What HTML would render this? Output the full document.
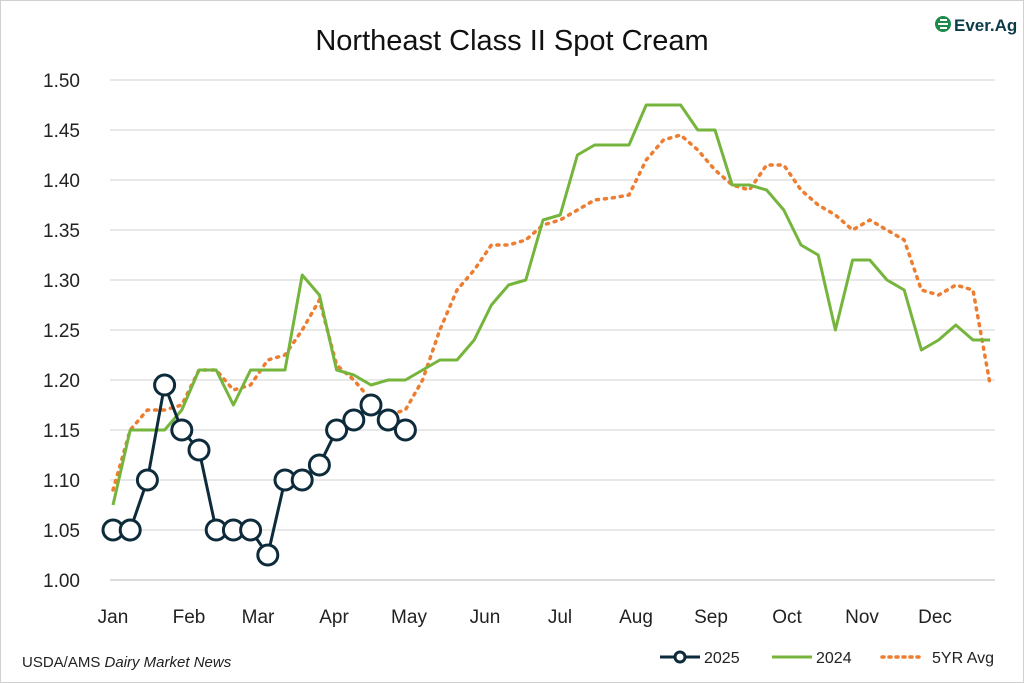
<!DOCTYPE html>
<html><head><meta charset="utf-8"><style>
body{margin:0;background:#fff;}
svg{display:block;font-family:"Liberation Sans",sans-serif;}
</style></head><body>
<svg id="c" width="1024" height="683" viewBox="0 0 1024 683" xmlns="http://www.w3.org/2000/svg">
<rect x="0.5" y="0.5" width="1023" height="682" fill="#fff" stroke="#d0d0d0"/>
<text x="512" y="50" text-anchor="middle" font-size="29" fill="#111">Northeast Class II Spot Cream</text>
<g id="grid"></g>
<g id="series"></g>
<text x="22" y="667" font-size="15" fill="#222">USDA/AMS <tspan font-style="italic">Dairy Market News</tspan></text>
<line x1="660" y1="657" x2="700" y2="657" stroke="#0d2b3a" stroke-width="3"/>
<circle cx="680" cy="657" r="5" fill="#fff" stroke="#0d2b3a" stroke-width="3"/>
<text x="704" y="663" font-size="16" fill="#222">2025</text>
<line x1="772" y1="657" x2="812" y2="657" stroke="#76b53d" stroke-width="3"/>
<text x="816" y="663" font-size="16" fill="#222">2024</text>
<line x1="882" y1="657" x2="922" y2="657" stroke="#ed7d31" stroke-width="3.5" stroke-dasharray="2 5" stroke-linecap="round"/>
<text x="932" y="663" font-size="16" fill="#222">5YR Avg</text>
<g transform="translate(934,14)">
<circle cx="9" cy="10" r="8" fill="#1e8a4a"/>
<path d="M4 10 h10 M6 6 h7 M6 14 h7" stroke="#fff" stroke-width="2"/>
<text x="20" y="17" font-size="17" font-weight="bold" fill="#0d3b4a">Ever.Ag</text>
</g>
</svg>
<script>
const NS="http://www.w3.org/2000/svg";
const g=document.getElementById('grid'),s=document.getElementById('series');
function el(p,t,a){const e=document.createElementNS(NS,t);for(const k in a)e.setAttribute(k,a[k]);p.appendChild(e);return e;}
const Y=v=>580-(v-1)*1000, X=i=>113+17.2*i;
for(let k=0;k<=10;k++){const v=1+k*0.05;el(g,'line',{x1:110,x2:995,y1:Y(v),y2:Y(v),stroke:k==0?'#bbb':'#d0d0d0','stroke-width':1});
 const t=el(g,'text',{x:80,y:Y(v)+7,'text-anchor':'end','font-size':19,fill:'#222'});t.textContent=v.toFixed(2);}
const m=['Jan','Feb','Mar','Apr','May','Jun','Jul','Aug','Sep','Oct','Nov','Dec'];
const mx=[113,189,258,334,409,485,560,636,711,787,862,935];
m.forEach((n,i)=>{const t=el(g,'text',{x:mx[i],y:623,'text-anchor':'middle','font-size':19,fill:'#222'});t.textContent=n;});
const avg=[1.09,1.15,1.17,1.17,1.175,1.21,1.21,1.19,1.195,1.22,1.225,1.25,1.28,1.215,1.2,1.18,1.165,1.17,1.2,1.25,1.29,1.31,1.335,1.335,1.34,1.355,1.36,1.37,1.38,1.382,1.385,1.42,1.44,1.445,1.43,1.41,1.395,1.39,1.415,1.415,1.39,1.375,1.365,1.35,1.36,1.35,1.34,1.29,1.285,1.295,1.29,1.195];
const y24=[1.075,1.15,1.15,1.15,1.17,1.21,1.21,1.175,1.21,1.21,1.21,1.305,1.285,1.21,1.205,1.195,1.2,1.2,1.21,1.22,1.22,1.24,1.275,1.295,1.3,1.36,1.365,1.425,1.435,1.435,1.435,1.475,1.475,1.475,1.45,1.45,1.395,1.395,1.39,1.37,1.335,1.325,1.25,1.32,1.32,1.3,1.29,1.23,1.24,1.255,1.24,1.24];
const y25=[1.05,1.05,1.1,1.195,1.15,1.13,1.05,1.05,1.05,1.025,1.1,1.1,1.115,1.15,1.16,1.175,1.16,1.15];
const pts=a=>a.map((v,i)=>X(i).toFixed(1)+','+Y(v).toFixed(1)).join(' ');
el(s,'polyline',{points:pts(avg),fill:'none',stroke:'#ed7d31','stroke-width':3.5,'stroke-dasharray':'2 6','stroke-linecap':'round'});
el(s,'polyline',{points:pts(y24),fill:'none',stroke:'#76b53d','stroke-width':3,'stroke-linejoin':'round'});
el(s,'polyline',{points:pts(y25),fill:'none',stroke:'#0d2b3a','stroke-width':3});
y25.forEach((v,i)=>el(s,'circle',{cx:X(i),cy:Y(v),r:10,fill:'#fff',stroke:'#0d2b3a','stroke-width':3}));
</script>
</body></html>
